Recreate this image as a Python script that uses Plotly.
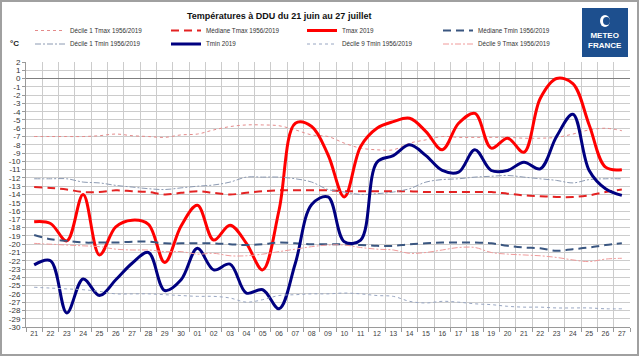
import plotly.graph_objects as go

days = ["21","22","23","24","25","26","27","28","29","30",
        "01","02","03","04","05","06","07","08","09","10",
        "11","12","13","14","15","16","17","18","19","20",
        "21","22","23","24","25","26","27"]

tmax_2019 = [-17.3,-17.5,-19.6,-14.0,-21.3,-17.9,-17.1,-17.6,-22.2,-17.8,
             -15.3,-19.5,-17.7,-19.9,-23.1,-15.9,-5.4,-5.8,-9.2,-14.3,
             -8.2,-6.0,-5.2,-4.8,-6.4,-8.6,-5.4,-4.2,-8.4,-7.2,
             -8.9,-2.4,0.0,-0.6,-5.6,-10.7,-11.0]

tmin_2019 = [-22.5,-22.0,-28.3,-24.2,-26.2,-24.3,-22.3,-21.0,-25.6,-24.3,
             -20.5,-23.1,-22.4,-25.9,-25.5,-27.8,-22.3,-15.2,-14.3,-19.7,
             -19.5,-10.1,-9.3,-8.0,-9.3,-11.1,-11.3,-8.6,-11.1,-11.1,
             -10.1,-10.9,-7.0,-4.3,-11.1,-13.3,-14.1]

d1_tmax = [-7.0,-7.0,-7.0,-7.0,-6.9,-6.7,-6.9,-7.0,-7.1,-6.8,
           -6.7,-6.2,-5.8,-5.6,-5.6,-5.7,-6.2,-6.8,-7.0,-7.8,
           -8.4,-8.6,-8.6,-7.8,-7.4,-7.0,-7.1,-7.1,-7.1,-7.1,
           -7.2,-7.2,-7.1,-6.7,-6.2,-6.0,-6.3]

med_tmax = [-13.1,-13.2,-13.4,-13.7,-13.7,-13.5,-13.6,-13.7,-14.0,-13.8,
            -13.6,-13.8,-14.0,-13.8,-13.6,-13.5,-13.5,-13.5,-13.5,-13.6,
            -13.6,-13.6,-13.6,-13.6,-13.7,-13.7,-13.7,-13.7,-13.7,-13.9,
            -14.1,-14.2,-14.3,-14.3,-14.1,-13.7,-13.4]

med_tmin = [-18.9,-19.4,-19.6,-19.8,-19.8,-19.8,-19.7,-19.7,-19.9,-19.9,
            -19.9,-19.9,-20.0,-20.1,-20.0,-19.8,-19.9,-20.0,-20.0,-20.0,
            -20.1,-20.2,-20.2,-20.0,-19.9,-19.8,-19.8,-19.8,-19.9,-20.2,
            -20.4,-20.5,-20.8,-20.6,-20.4,-20.1,-19.9]

d1_tmin = [-12.1,-12.1,-12.1,-12.5,-12.6,-12.9,-13.1,-13.3,-13.4,-13.2,
           -13.0,-12.85,-12.5,-11.9,-11.9,-11.9,-12.1,-12.5,-13.4,-13.7,
           -14.0,-13.9,-13.7,-13.3,-12.5,-12.2,-12.1,-11.9,-11.8,-11.7,
           -11.9,-12.1,-12.3,-12.6,-12.2,-12.1,-12.1]

d9_tmin = [-25.2,-25.3,-25.4,-25.5,-25.7,-26.0,-26.0,-26.0,-26.1,-26.2,
           -26.3,-26.3,-26.5,-27.0,-26.7,-26.2,-26.1,-26.0,-26.0,-25.9,
           -26.0,-26.2,-26.3,-26.9,-27.1,-26.9,-27.0,-27.2,-27.3,-27.5,
           -27.6,-27.6,-27.7,-27.7,-27.7,-27.8,-27.8]

d9_tmax = [-19.9,-20.0,-20.1,-20.2,-20.3,-20.6,-20.7,-20.7,-20.9,-20.9,
           -21.2,-21.1,-21.4,-21.4,-21.2,-20.9,-20.6,-20.3,-20.1,-20.1,
           -20.4,-20.6,-20.7,-21.1,-21.0,-20.7,-20.4,-20.4,-21.0,-21.2,
           -21.3,-21.4,-21.6,-21.9,-22.1,-21.8,-21.7]

y_ticks = list(range(-30, 3))

title_text = "Températures à DDU du 21 juin au 27 juillet"
unit_text = "°C"

x = list(range(len(days)))
FONT = "Liberation Sans, Arial, sans-serif"

# (name, data, color, width, dash, legend)
series = [
    ("Décile 1 Tmax 1956/2019", d1_tmax, "#e48a8a", 1, "dot", "legend"),
    ("Médiane Tmax 1956/2019", med_tmax, "#e32222", 2, "8px,5px", "legend"),
    ("Tmax 2019", tmax_2019, "#ff0000", 3, "solid", "legend"),
    ("Médiane Tmin 1956/2019", med_tmin, "#3a5680", 2, "8px,5px", "legend"),
    ("Décile 1 Tmin 1956/2019", d1_tmin, "#8c9ab2", 1, "6px,2px,2px,2px", "legend2"),
    ("Tmin 2019", tmin_2019, "#000080", 3, "solid", "legend2"),
    ("Décile 9 Tmin 1956/2019", d9_tmin, "#98a6c2", 1, "dot", "legend2"),
    ("Décile 9 Tmax 1956/2019", d9_tmax, "#f09a9a", 1, "6px,2px,2px,2px", "legend2"),
]

fig = go.Figure()
for i in range(len(series)):
    name, vals, col, w, dash, lg = series[i]
    fig.add_trace(go.Scatter(
        x=x, y=vals, name=name, mode="lines",
        line=dict(color=col, width=w, dash=dash, shape="spline", smoothing=1.0),
        legend=lg, hoverinfo="skip",
    ))

L, R, T, B = 26, 10, 62, 29
W, H = 640, 356
PW, PH = W - L - R, H - T - B

def px(xp):
    return (xp - L) / PW

def py(yp):
    return (H - B - yp) / PH

legend_common = dict(
    orientation="h", bgcolor="rgba(0,0,0,0)", borderwidth=0,
    font=dict(family=FONT, size=6.3, color="#333333"),
    entrywidth=91, entrywidthmode="pixels", itemwidth=30,
    xanchor="left", yanchor="middle", tracegroupgap=0, traceorder="normal",
)

fig.update_layout(
    width=W, height=H,
    margin=dict(l=L, r=R, t=T, b=B, autoexpand=False),
    paper_bgcolor="white", plot_bgcolor="white",
    showlegend=True,
    legend=dict(x=px(30), y=py(30.5), **legend_common),
    legend2=dict(x=px(30), y=py(44), **legend_common),
    xaxis=dict(
        range=[-0.5, len(days) - 0.5],
        tickmode="array", tickvals=x, ticktext=days,
        showgrid=False, zeroline=False,
        ticks="", tickfont=dict(family=FONT, size=7, color="#404040"),
        showline=True, linecolor="#9a9a9a", linewidth=1,
        minor=dict(tickmode="array", tickvals=[i - 0.5 for i in range(len(days) + 1)],
                   showgrid=True, gridcolor="#cccccc", gridwidth=1,
                   ticks="outside", ticklen=4, tickcolor="#9a9a9a"),
        fixedrange=True,
    ),
    yaxis=dict(
        range=[-30, 2], tickmode="array", tickvals=y_ticks,
        ticktext=[str(v) for v in y_ticks],
        showgrid=True, gridcolor="#cccccc", gridwidth=1,
        zeroline=True, zerolinecolor="#7f7f7f", zerolinewidth=1,
        showline=True, linecolor="#9a9a9a", linewidth=1,
        ticks="outside", ticklen=3, tickcolor="#9a9a9a",
        tickfont=dict(family=FONT, size=8, color="#333333"),
        fixedrange=True,
    ),
    shapes=[
        dict(type="rect", xref="paper", yref="paper",
             x0=px(1), x1=px(638), y0=py(1), y1=py(355),
             line=dict(color="#a0a0a0", width=2), fillcolor="rgba(0,0,0,0)", layer="below"),
        dict(type="rect", xref="paper", yref="paper",
             x0=px(582), x1=px(628), y0=py(57), y1=py(8),
             line=dict(width=0), fillcolor="#1d4f8e", layer="above"),
        dict(type="circle", xref="paper", yref="paper",
             x0=px(600), x1=px(610), y0=py(27), y1=py(15),
             line=dict(width=0), fillcolor="white", layer="above"),
        dict(type="circle", xref="paper", yref="paper",
             x0=px(603), x1=px(610), y0=py(25), y1=py(17),
             line=dict(width=0), fillcolor="#1d4f8e", layer="above"),
    ],
    annotations=[
        dict(text="<b>" + title_text + "</b>", xref="paper", yref="paper",
             x=px(279), y=py(16.5), xanchor="center", yanchor="middle", showarrow=False,
             font=dict(family=FONT, size=9, color="#111111")),
        dict(text="<b>" + unit_text + "</b>", xref="paper", yref="paper",
             x=px(14), y=py(43), xanchor="center", yanchor="middle", showarrow=False,
             font=dict(family=FONT, size=8, color="#222222")),
        dict(text="<b>METEO<br>FRANCE</b>", xref="paper", yref="paper",
             x=px(605), y=py(40), xanchor="center", yanchor="middle", showarrow=False,
             font=dict(family=FONT, size=8, color="white")),
    ],
)

fig.write_html(
    "out.html",
    config={"displayModeBar": False, "staticPlot": True},
    post_script="document.body.style.margin='0';document.body.style.overflow='hidden';",
)
